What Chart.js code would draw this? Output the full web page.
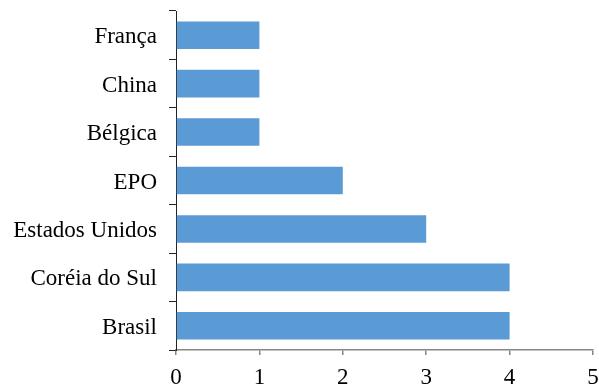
<!DOCTYPE html>
<html><head><meta charset="utf-8">
<script src="https://cdn.jsdelivr.net/npm/chart.js@4"></script>
<style>html,body{margin:0;padding:0;background:#fff}#wrap{width:599px;height:385px}</style>
</head><body><div id="wrap"><canvas id="c" width="599" height="385"></canvas></div>
<script>
const categories = ["França", "China", "Bélgica", "EPO", "Estados Unidos", "Coréia do Sul", "Brasil"];
const values = [1, 1, 1, 2, 3, 4, 4];
const xTicks = [0, 1, 2, 3, 4, 5];

const FONT = "'Liberation Serif', 'Times New Roman', serif";
new Chart(document.getElementById('c'), {
  type: 'bar',
  data: { labels: categories, datasets: [{ data: values, backgroundColor: '#5B9BD5', borderWidth: 0, barPercentage: 0.57, categoryPercentage: 1 }] },
  options: {
    indexAxis: 'y', responsive: false, animation: false, devicePixelRatio: 1,
    layout: { padding: { top: 11, right: 6, left: 0, bottom: 0 } },
    plugins: { legend: { display: false }, tooltip: { enabled: false } },
    scales: {
      x: {
        min: 0, max: 5,
        afterBuildTicks: s => { s.ticks = xTicks.map(v => ({ value: v })); },
        afterFit: s => { s.height = 35; s.paddingLeft = 0; s.paddingRight = 0; },
        border: { color: '#868686', width: 1.5 },
        grid: { drawOnChartArea: false, tickLength: 5, color: '#868686', lineWidth: 1.5 },
        ticks: { padding: 9, color: '#000', font: { family: FONT, size: 23 } }
      },
      y: {
        afterFit: s => { s.width = 176; s.paddingTop = 0; s.paddingBottom = 0; },
        border: { color: '#222', width: 1 },
        grid: { drawOnChartArea: false, tickLength: 7, color: '#222', lineWidth: 1, offset: true },
        ticks: { padding: 12, labelOffset: 2, color: '#000', font: { family: FONT, size: 23 } }
      }
    }
  }
});
</script></body></html>
